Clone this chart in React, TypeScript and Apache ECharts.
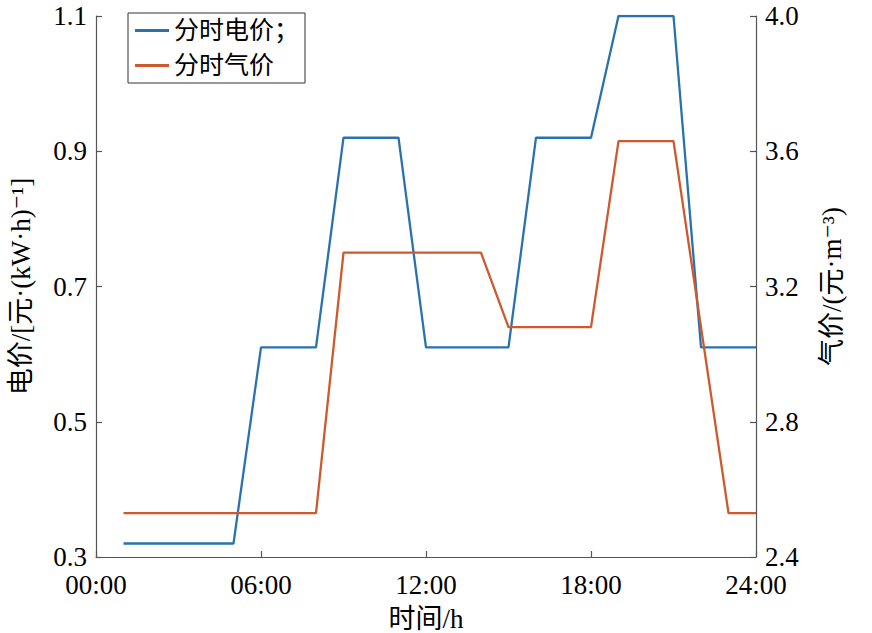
import React, { useEffect, useRef } from "react";
import * as echarts from "echarts";

const hours = [1, 2, 3, 4, 5, 6, 7, 8, 9, 10, 11, 12, 13, 14, 15, 16, 17, 18, 19, 20, 21, 22, 23, 24];
const elecPrice = [0.32, 0.32, 0.32, 0.32, 0.32, 0.61, 0.61, 0.61, 0.92, 0.92, 0.92, 0.61, 0.61, 0.61, 0.61, 0.92, 0.92, 0.92, 1.1, 1.1, 1.1, 0.61, 0.61, 0.61];
const gasPrice = [2.53, 2.53, 2.53, 2.53, 2.53, 2.53, 2.53, 2.53, 3.3, 3.3, 3.3, 3.3, 3.3, 3.3, 3.08, 3.08, 3.08, 3.08, 3.63, 3.63, 3.63, 3.08, 2.53, 2.53];
const seriesNames = ["分时电价；", "分时气价"];
const xTickLabels = ["00:00", "06:00", "12:00", "18:00", "24:00"];

const FONT = "Liberation Serif, DejaVu Serif, Noto Sans CJK SC, serif";
const AXIS_COLOR = "#555555";

export default function App() {
  const ref = useRef<HTMLDivElement>(null);
  useEffect(() => {
    if (!ref.current) return;
    const chart = echarts.init(ref.current, null, { renderer: "svg" });
    const axisCommon = {
      axisLine: { show: true, lineStyle: { color: AXIS_COLOR, width: 1.2 } },
      axisTick: { show: true, inside: true, length: 6, lineStyle: { color: AXIS_COLOR, width: 1.2 } },
      splitLine: { show: false },
      axisLabel: { color: "#000", fontSize: 27, fontFamily: FONT },
      nameTextStyle: { color: "#000", fontSize: 27, fontFamily: FONT },
    };
    chart.setOption({
      animation: false,
      backgroundColor: "#fff",
      grid: { left: 96, right: 116, top: 16, bottom: 76, containLabel: false, outerBoundsMode: "none" },
      legend: {
        left: 128,
        top: 13,
        orient: "vertical",
        data: seriesNames,
        icon: "rect",
        backgroundColor: "#fff",
        borderColor: "#333",
        borderWidth: 1,
        borderRadius: 0,
        padding: [5, 6, 5, 7],
        itemWidth: 34,
        itemHeight: 3,
        itemGap: 10,
        textStyle: { color: "#000", fontSize: 25, fontFamily: FONT },
      },
      xAxis: {
        type: "value",
        min: 0,
        max: 24,
        interval: 6,
        name: "时间/h",
        nameLocation: "middle",
        nameGap: 48,
        ...axisCommon,
        axisLabel: {
          ...axisCommon.axisLabel,
          margin: 14,
          formatter: (v: number) => xTickLabels[Math.round(v / 6)] ?? "",
        },
      },
      yAxis: [
        {
          type: "value",
          min: 0.3,
          max: 1.1,
          interval: 0.2,
          position: "left",
          name: "电价/[元·(kW·h)⁻¹]",
          nameLocation: "middle",
          nameRotate: 90,
          nameGap: 62,
          ...axisCommon,
          axisLabel: { ...axisCommon.axisLabel, margin: 9, formatter: (v: number) => v.toFixed(1) },
        },
        {
          type: "value",
          min: 2.4,
          max: 4.0,
          interval: 0.4,
          position: "right",
          name: "气价/(元·m⁻³)",
          nameLocation: "middle",
          nameRotate: 90,
          nameGap: 62,
          ...axisCommon,
          axisLabel: { ...axisCommon.axisLabel, margin: 9, formatter: (v: number) => v.toFixed(1) },
        },
      ],
      series: [
        {
          name: seriesNames[0],
          type: "line",
          yAxisIndex: 0,
          symbol: "none",
          showSymbol: false,
          lineStyle: { color: "#2a72ad", width: 2.3 },
          itemStyle: { color: "#2a72ad" },
          data: hours.map((h, i) => [h, elecPrice[i]]),
        },
        {
          name: seriesNames[1],
          type: "line",
          yAxisIndex: 1,
          symbol: "none",
          showSymbol: false,
          lineStyle: { color: "#cd5a2e", width: 2.3 },
          itemStyle: { color: "#cd5a2e" },
          data: hours.map((h, i) => [h, gasPrice[i]]),
        },
      ],
    });
    return () => chart.dispose();
  }, []);
  return <div ref={ref} style={{ width: 872, height: 633, position: "absolute", left: 0, top: 0 }} />;
}
